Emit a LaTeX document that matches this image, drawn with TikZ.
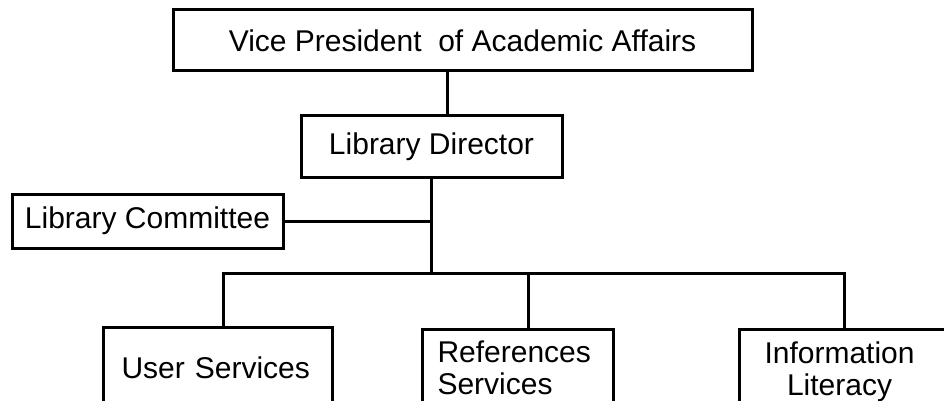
\documentclass[tikz,border=0pt]{standalone}
\usepackage{fontspec}
\setmainfont{Liberation Sans}
\begin{document}
\begin{tikzpicture}[x=1pt,y=-1pt,
  box/.style={draw, line width=3pt, inner sep=0pt,
    font=\fontsize{30}{32}\selectfont},
  wire/.style={line width=3pt}]
\useasboundingbox (0,0) rectangle (944,401);
\clip (0,0) rectangle (944,401);

% upper levels
\node[box, minimum width=579pt, minimum height=61pt] (vp) at (462.5,40.5)
  {Vice President\ \ of Academic Affairs};
\node[box, minimum width=261pt, minimum height=61pt] (ld) at (431.5,146.5)
  {Library Director};
\node[box, minimum width=271pt, minimum height=54pt] (lc) at (147.5,221)
  {Library Committee};

% departments (boxes run past the lower edge)
\node[box, anchor=north west, minimum height=81pt, text width=193pt,
  inner xsep=18pt, align=left] (us) at (102,326) {User Services};
\node[box, anchor=north west, minimum height=77pt, text width=161pt,
  inner xsep=15pt, align=left] (rs) at (421,328) {References\\Services};
\node[box, anchor=north west, minimum height=87pt, text width=190pt,
  inner xsep=25pt, align=left] (il) at (738,328)
  {\begin{tabular}{@{}c@{}}Information\\Literacy\end{tabular}};

% connectors
\coordinate (bus) at (432,273);
\draw[wire] ([xshift=15.5pt]ld.north) -- ([xshift=15.5pt]ld.north |- vp.south);
\draw[wire] (ld.south) -- (ld.south |- bus);
\draw[wire] (lc.east) -- (lc.east -| ld.south);
\draw[wire] ([xshift=5pt]us.north) |- (bus) -| ([xshift=-15pt]il.north);
\draw[wire] ([xshift=10.5pt]rs.north) -- ([xshift=10.5pt]rs.north |- bus);
\end{tikzpicture}
\end{document}
